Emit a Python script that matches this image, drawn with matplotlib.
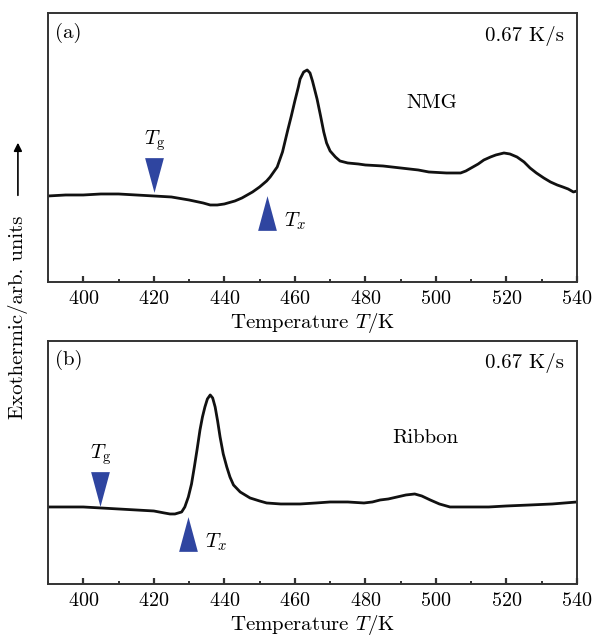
import matplotlib
matplotlib.use('Agg')
import matplotlib.pyplot as plt
from matplotlib.ticker import MultipleLocator

plt.rcParams['font.family'] = ['cmr10', 'DejaVu Serif']
plt.rcParams['mathtext.fontset'] = 'cm'
plt.rcParams['axes.formatter.use_mathtext'] = True

# (a) NMG trace (arb. units)
nmg_T = [390, 395, 400, 405, 410, 415, 420, 425, 430, 434, 436, 438, 440, 443,
         445, 448, 450, 452, 453, 455, 456.5, 458, 459, 460, 461, 461.5, 462.5,
         463.5, 464.3, 465, 466.3, 467.3, 468.2, 469, 470, 471.5, 472.8, 475,
         478, 480, 485, 490, 495, 498, 503, 507, 508.5, 510, 512, 513.6, 515.5,
         517, 519.3, 521, 523, 525, 526.7, 528.5, 530.6, 532.5, 534.4, 536,
         537.5, 539, 540]
nmg_h = [86, 87, 87, 88, 88, 87, 86, 85, 82, 79, 77, 77, 78, 81,
         84, 90, 95, 101, 105, 115, 130, 152, 166, 181, 195, 203, 210,
         212, 209, 201, 183, 166, 150, 139, 131, 125, 121, 119,
         118, 117, 116, 114, 112, 110, 109, 109, 111, 114, 118, 122, 125,
         127, 129, 128, 125, 120, 114, 109, 104, 100, 97, 95,
         93, 90, 91]

# (b) ribbon trace
rib_T = [390, 395, 400, 405, 410, 415, 420, 423, 424.6, 426, 427.9, 428.8,
         429.8, 430.7, 431.5, 432.3, 433.1, 433.8, 434.5, 435.2, 436, 436.7,
         437.4, 438.1, 438.8, 439.7, 440.7, 441.6, 442.6, 444.5, 447.3, 450,
         452, 456, 461.5, 466, 470, 475, 479.6, 482, 484.2, 486.5, 489, 491.5,
         494, 496, 498.4, 501, 504, 508, 515, 520, 526.7, 533, 540]
rib_h = [77, 77, 77, 76, 75, 74, 73, 71, 70, 70, 72, 77,
         87, 100, 117, 135, 154, 167, 177, 185, 189, 186,
         177, 163, 147, 130, 117, 107, 99, 92, 86, 83,
         81, 80, 80, 81, 82, 82, 81, 82, 84, 85, 87, 89,
         90, 88, 84, 80, 77, 77, 77, 78, 79, 80, 82]

# marker positions (T, height) for Tg (down) and Tx (up)
tg_a = (420.2, 106.5)
tx_a = (452.1, 69)
tg_b = (404.8, 95)
tx_b = (429.7, 50)

panels = [
    dict(T=nmg_T, h=nmg_h, tg=tg_a, tx=tx_a, tag='(a)', name='NMG',
         name_pos=(0.726, 0.665), ymax=269),
    dict(T=rib_T, h=rib_h, tg=tg_b, tx=tx_b, tag='(b)', name='Ribbon',
         name_pos=(0.713, 0.60), ymax=243),
]

tri_color = '#2f45a0'
down_tri = [(-0.54, 1), (0.54, 1), (0, -1)]
up_tri = [(-0.54, -1), (0.54, -1), (0, 1)]

fig = plt.figure(figsize=(5.97, 6.39), dpi=100)
axes = [fig.add_axes([0.0804, 0.5587, 0.886, 0.421]),
        fig.add_axes([0.0804, 0.0861, 0.886, 0.3803])]

for ax, p in zip(axes, panels):
    ax.plot(p['T'], p['h'], color='#111111', lw=2.0, solid_capstyle='round')
    ax.plot([p['tg'][0]], [p['tg'][1]], marker=down_tri, ms=25,
            color=tri_color, mec='none', ls='none')
    ax.plot([p['tx'][0]], [p['tx'][1]], marker=up_tri, ms=25,
            color=tri_color, mec='none', ls='none')
    ax.annotate('$T_{\\rm g}$', xy=p['tg'], xytext=(0, 16),
                textcoords='offset points', ha='center', va='bottom',
                fontsize=15)
    ax.annotate('$T_x$', xy=p['tx'], xytext=(12, -6),
                textcoords='offset points', ha='left', va='center',
                fontsize=15)

    ax.set_xlim(390, 540)
    ax.set_ylim(0, p['ymax'])
    ax.xaxis.set_major_locator(MultipleLocator(20))
    ax.xaxis.set_minor_locator(MultipleLocator(10))
    ax.tick_params(which='both', direction='in', top=False, left=False,
                   right=False, labelleft=False, color='#333333',
                   labelsize=14.5, pad=6)
    ax.tick_params(which='major', length=4, width=1.6)
    ax.tick_params(which='minor', length=2, width=1.4)
    ax.set_yticks([])
    for s in ax.spines.values():
        s.set_color('#333333')
        s.set_linewidth(1.4)
    ax.set_xlabel('Temperature $T$/K', fontsize=15, labelpad=2)

    ax.text(0.014, 0.965, p['tag'], transform=ax.transAxes, ha='left',
            va='top', fontsize=15)
    ax.text(0.975, 0.95, '0.67 K/s', transform=ax.transAxes, ha='right',
            va='top', fontsize=15)
    ax.text(p['name_pos'][0], p['name_pos'][1], p['name'],
            transform=ax.transAxes, ha='center', va='center', fontsize=15)

axes[1].xaxis.labelpad = 2

fig.text(0.030, 0.504, 'Exothermic/arb. units', rotation=90, ha='center',
         va='center', fontsize=15)
fig.add_artist(matplotlib.patches.FancyArrowPatch(
    (0.030, 0.690), (0.030, 0.781), transform=fig.transFigure,
    arrowstyle='-|>', mutation_scale=12, color='black', lw=1.2))

fig.savefig('out.png', dpi=100)
